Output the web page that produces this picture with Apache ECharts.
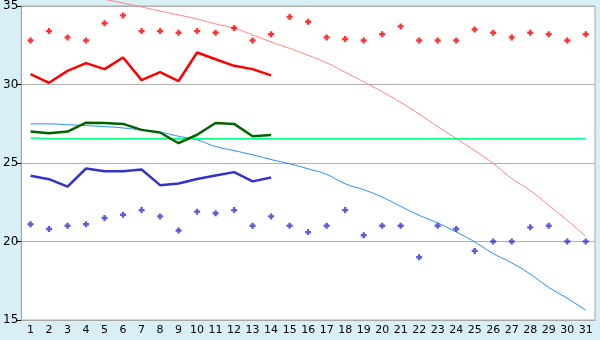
<!DOCTYPE html>
<html>
<head>
<meta charset="utf-8">
<script src="https://cdn.jsdelivr.net/npm/echarts@6/dist/echarts.min.js"></script>
<style>
html,body{margin:0;padding:0;background:#d9eff6;}
#c{width:600px;height:340px;}
</style>
</head>
<body>
<div id="c"></div>
<script>
var days = ['1','2','3','4','5','6','7','8','9','10','11','12','13','14','15','16','17','18','19','20','21','22','23','24','25','26','27','28','29','30','31'];
var yTicks = [15, 20, 25, 30, 35];

var maxDaily = [32.8,33.4,33.0,32.8,33.9,34.4,33.4,33.4,33.3,33.4,33.3,33.6,32.8,33.2,34.3,34.0,33.0,32.9,32.8,33.2,33.7,32.8,32.8,32.8,33.5,33.3,33.0,33.3,33.2,32.8,33.2];
var minDaily = [21.1,20.8,21.0,21.1,21.5,21.7,22.0,21.6,20.7,21.9,21.8,22.0,21.0,21.6,21.0,20.6,21.0,22.0,20.4,21.0,21.0,19.0,21.0,20.8,19.4,20.0,20.0,20.9,21.0,20.0,20.0];

var maxLine = [30.66,30.11,30.87,31.36,30.98,31.72,30.28,30.79,30.22,32.04,31.61,31.19,30.98,30.58];
var meanLine = [27.0,26.9,27.0,27.57,27.55,27.49,27.11,26.94,26.26,26.8,27.55,27.49,26.7,26.79];
var minLine = [24.19,23.97,23.49,24.65,24.48,24.48,24.59,23.59,23.70,23.98,24.21,24.42,23.83,24.08];

var normalMax = [36.3,36.1,35.9,35.68,35.43,35.19,34.94,34.68,34.43,34.17,33.86,33.58,33.16,32.71,32.3,31.86,31.38,30.78,30.17,29.54,28.86,28.11,27.32,26.56,25.79,24.97,24.02,23.25,22.3,21.35,20.33];
var normalMean = [27.49,27.49,27.44,27.38,27.32,27.23,27.1,26.96,26.7,26.47,26.05,25.79,25.52,25.22,24.95,24.63,24.27,23.68,23.3,22.83,22.24,21.67,21.18,20.61,19.97,19.23,18.64,17.92,17.08,16.38,15.63];
var monthMean = [26.6,26.55,26.55,26.55,26.55,26.55,26.55,26.55,26.55,26.55,26.55,26.55,26.55,26.55,26.55,26.55,26.55,26.55,26.55,26.55,26.55,26.55,26.55,26.55,26.55,26.55,26.55,26.55,26.55,26.55,26.55];

var plusMark = 'path://M1.5,0 L3.5,0 L3.5,1.5 L5,1.5 L5,3.5 L3.5,3.5 L3.5,5 L1.5,5 L1.5,3.5 L0,3.5 L0,1.5 L1.5,1.5 Z';

function pad(arr){ var o = arr.slice(); while(o.length < days.length) o.push(null); return o; }

var chart = echarts.init(document.getElementById('c'), null, {renderer:'canvas'});
chart.setOption({
  backgroundColor: '#d9eff6',
  animation: false,
  grid: {left: 20, right: 5, top: 5, bottom: 20, show: true, backgroundColor: '#ffffff', borderColor: '#a8a8a8', borderWidth: 1},
  xAxis: {
    type: 'category', data: days, boundaryGap: true,
    axisLine: {lineStyle: {color: '#a8a8a8'}},
    axisTick: {alignWithLabel: true, length: 5, lineStyle: {color: '#000'}},
    axisLabel: {color: '#000', fontFamily: 'DejaVu Sans', fontSize: 11, margin: 5, interval: 0},
    splitLine: {show: false}
  },
  yAxis: {
    type: 'value', min: yTicks[0], max: yTicks[yTicks.length-1], interval: 5,
    axisLine: {show: true, lineStyle: {color: '#a8a8a8'}},
    axisTick: {show: true, length: 5, lineStyle: {color: '#000'}},
    axisLabel: {color: '#000', fontFamily: 'DejaVu Sans', fontSize: 12, margin: 3},
    splitLine: {show: true, lineStyle: {color: '#b0b0b0', width: 1}}
  },
  series: [
    {type: 'line', data: normalMax, smooth: true, showSymbol: false, clip: false, lineStyle: {color: '#ff8080', width: 1}, z: 2},
    {type: 'line', data: normalMean, smooth: true, showSymbol: false, lineStyle: {color: '#1e8cff', width: 1}, z: 2},
    {type: 'line', data: monthMean, showSymbol: false, lineStyle: {color: '#00ff80', width: 1.5}, z: 2},
    {type: 'line', data: pad(maxLine), showSymbol: false, lineStyle: {color: '#ff0000', width: 2.5}, z: 3},
    {type: 'line', data: pad(meanLine), showSymbol: false, lineStyle: {color: '#006400', width: 2.5}, z: 3},
    {type: 'line', data: pad(minLine), showSymbol: false, lineStyle: {color: '#3333cc', width: 2.5}, z: 3},
    {type: 'scatter', data: maxDaily, symbol: plusMark, symbolSize: 6, itemStyle: {color: '#ff0000'}, z: 4},
    {type: 'scatter', data: minDaily, symbol: plusMark, symbolSize: 6, itemStyle: {color: '#3333cc'}, z: 4}
  ]
});
</script>
</body>
</html>
